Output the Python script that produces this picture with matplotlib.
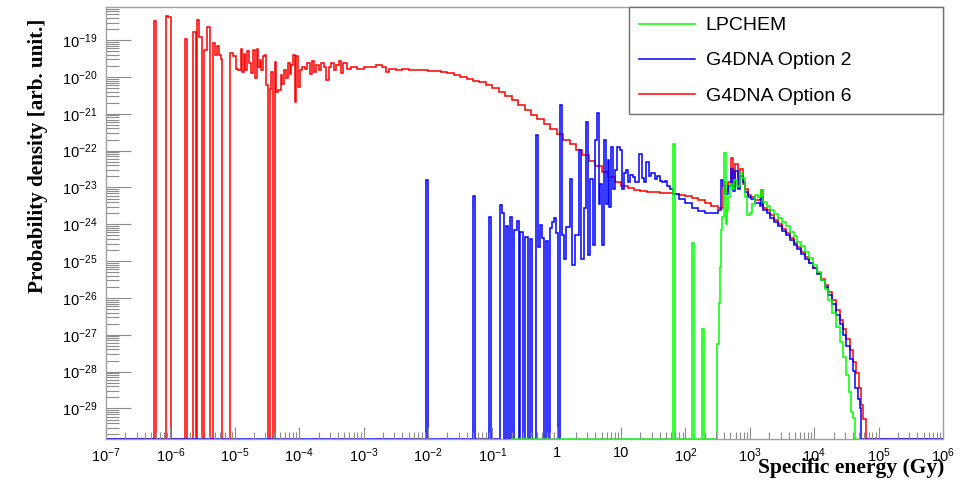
import numpy as np
import matplotlib
matplotlib.use('Agg')
import matplotlib.pyplot as plt
from matplotlib.ticker import LogLocator, FuncFormatter, NullFormatter
from matplotlib.lines import Line2D

# histogram bins
# edges are log10(specific energy / Gy), values log10(probability density)
# None = empty bin (ROOT draws it on the bottom of the frame)

red_edges = [
    -7.000, -6.256, -6.225, -6.074, -6.034, -5.992, -5.775, -5.736, -5.647, -5.600,
    -5.590, -5.555, -5.516, -5.473, -5.426, -5.380, -5.336, -5.305, -5.274, -5.243,
    -5.215, -5.191, -5.078, -5.026, -4.974, -4.949, -4.907, -4.886, -4.855, -4.834,
    -4.804, -4.783, -4.752, -4.716, -4.690, -4.659, -4.638, -4.612, -4.587, -4.556,
    -4.535, -4.509, -4.483, -4.457, -4.431, -4.406, -4.380, -4.354, -4.328, -4.287,
    -4.266, -4.235, -4.199, -4.173, -4.147, -4.121, -4.096, -4.070, -4.044, -4.018,
    -3.992, -3.956, -3.915, -3.873, -3.837, -3.801, -3.770, -3.734, -3.698, -3.656,
    -3.615, -3.579, -3.543, -3.501, -3.460, -3.424, -3.388, -3.357, -3.320, -3.250,
    -3.190, -3.100, -3.000, -2.900, -2.800, -2.720, -2.650, -2.600, -2.500, -2.400,
    -2.300, -2.200, -2.100, -2.000, -1.900, -1.800, -1.700, -1.600, -1.500, -1.400,
    -1.300, -1.200, -1.100, -1.000, -0.900, -0.800, -0.700, -0.600, -0.500, -0.400,
    -0.300, -0.200, -0.100, 0.000, 0.100, 0.200, 0.300, 0.400, 0.500, 0.600,
    0.700, 0.800, 0.900, 1.000, 1.100, 1.200, 1.300, 1.400, 1.500, 1.600,
    1.700, 1.800, 1.900, 2.000, 2.100, 2.200, 2.300, 2.400, 2.500, 2.550,
    2.580, 2.620, 2.660, 2.700, 2.740, 2.770, 2.810, 2.850, 2.890, 2.930,
    2.970, 3.020, 3.080, 3.150, 3.180, 3.210, 3.260, 3.320, 3.380, 3.440,
    3.500, 3.560, 3.620, 3.680, 3.740, 3.800, 3.860, 3.920, 3.980, 4.040,
    4.100, 4.160, 4.220, 4.280, 4.340, 4.400, 4.450, 4.500, 4.550, 4.600,
    4.650, 4.690, 4.720, 4.750, 4.800, 6.000,
]
red_logp = [
    None, -18.48, None, -18.35, -18.38, None, -18.97, None, -18.79, None,
    -18.46, -18.91, None, -19.27, -18.64, None, -19.07, -19.41, -19.16, -19.41,
    -19.52, None, -19.36, -19.43, -19.77, -19.82, -19.23, -19.86, -19.38, -19.80,
    -19.29, -19.63, -19.89, -19.27, -20.04, -19.23, -19.72, -19.53, -19.82, -19.43,
    -19.41, -20.22, None, -20.34, -19.86, None, -19.59, -20.40, -20.36, -19.95,
    -20.18, -19.80, -20.04, -19.63, -19.91, -19.68, -19.41, -20.68, -19.43, -20.27,
    -19.82, -19.72, -19.77, -19.63, -19.91, -19.56, -19.86, -19.68, -19.82, -19.62,
    -19.72, -20.07, -19.72, -19.63, -19.82, -19.68, -19.56, -19.89, -19.63, -19.77,
    -19.74, -19.77, -19.72, -19.74, -19.68, -19.72, -19.86, -19.77, -19.80, -19.79,
    -19.81, -19.82, -19.82, -19.84, -19.85, -19.87, -19.90, -19.94, -19.99, -20.05,
    -20.10, -20.15, -20.22, -20.30, -20.42, -20.52, -20.63, -20.77, -20.90, -21.03,
    -21.15, -21.28, -21.40, -21.55, -21.70, -21.83, -21.98, -22.12, -22.27, -22.42,
    -22.57, -22.71, -22.85, -22.95, -23.02, -23.07, -23.10, -23.11, -23.12, -23.14,
    -23.16, -23.18, -23.21, -23.24, -23.28, -23.34, -23.42, -23.50, -23.57, -23.55,
    -22.85, -23.10, -22.85, -22.21, -22.95, -22.35, -22.95, -22.50, -22.90, -23.05,
    -23.20, -23.25, -23.35, -23.30, -23.08, -23.55, -23.62, -23.75, -23.87, -24.00,
    -24.12, -24.25, -24.37, -24.50, -24.62, -24.76, -24.90, -25.04, -25.18, -25.32,
    -25.48, -25.64, -25.84, -26.06, -26.34, -26.60, -26.85, -27.12, -27.42, -27.75,
    -28.05, -28.45, -28.90, -29.30, None,
]

blue_edges = [
    -7.000, -2.030, -2.000, -1.300, -1.270, -1.045, -1.015, -0.881, -0.850, -0.814,
    -0.788, -0.752, -0.726, -0.695, -0.659, -0.623, -0.592, -0.566, -0.530, -0.494,
    -0.452, -0.416, -0.385, -0.323, -0.292, -0.261, -0.230, -0.199, -0.168, -0.137,
    -0.106, -0.075, -0.044, -0.013, 0.018, 0.049, 0.080, 0.110, 0.150, 0.200,
    0.240, 0.290, 0.340, 0.380, 0.420, 0.460, 0.490, 0.520, 0.560, 0.600,
    0.630, 0.660, 0.680, 0.700, 0.730, 0.760, 0.790, 0.810, 0.840, 0.870,
    0.900, 0.940, 0.980, 1.010, 1.040, 1.080, 1.110, 1.140, 1.180, 1.220,
    1.280, 1.320, 1.350, 1.390, 1.430, 1.470, 1.520, 1.560, 1.600, 1.640,
    1.680, 1.720, 1.760, 1.800, 1.900, 2.000, 2.100, 2.200, 2.300, 2.400,
    2.500, 2.550, 2.580, 2.620, 2.660, 2.700, 2.740, 2.770, 2.810, 2.850,
    2.890, 2.930, 2.970, 3.020, 3.080, 3.150, 3.180, 3.210, 3.260, 3.320,
    3.380, 3.440, 3.500, 3.560, 3.620, 3.680, 3.740, 3.800, 3.860, 3.920,
    3.980, 4.040, 4.100, 4.160, 4.220, 4.280, 4.340, 4.400, 4.450, 4.500,
    4.550, 4.600, 4.640, 4.680, 4.710, 4.730, 6.000,
]
blue_logp = [
    None, -22.80, None, -23.24, None, -23.80, None, -23.47, -23.68, None,
    -24.05, None, -23.80, None, -24.16, -23.92, None, -24.21, None, -24.35,
    None, -24.41, None, -21.58, -24.62, -24.01, -24.37, None, -24.45, None,
    -24.10, -23.95, -23.83, -24.25, None, -20.75, -24.30, -24.93, -24.07, -22.76,
    -25.11, -24.30, -21.99, -24.93, -23.57, -21.22, -24.84, -22.76, -24.57, -21.72,
    -20.99, -23.44, -22.90, -24.57, -21.72, -23.44, -22.26, -23.53, -21.90, -23.03,
    -22.53, -21.90, -21.99, -23.03, -22.62, -22.53, -22.85, -22.67, -22.71, -22.85,
    -22.10, -22.75, -22.85, -22.31, -22.70, -22.62, -22.76, -22.70, -22.82, -22.85,
    -22.82, -22.95, -23.05, -23.18, -23.30, -23.42, -23.55, -23.63, -23.68, -23.68,
    -23.62, -22.80, -22.95, -23.17, -22.95, -22.50, -23.10, -22.55, -23.05, -22.70,
    -22.85, -23.12, -23.25, -23.30, -23.42, -23.50, -23.26, -23.62, -23.70, -23.82,
    -23.93, -24.06, -24.18, -24.30, -24.42, -24.55, -24.67, -24.80, -24.93, -25.06,
    -25.20, -25.35, -25.51, -25.70, -25.92, -26.17, -26.45, -26.72, -27.00, -27.30,
    -27.65, -27.98, -28.45, -28.75, -29.00, None,
]

green_edges = [
    -0.700, 1.800, 1.830, 2.100, 2.130, 2.260, 2.290, 2.490, 2.520, 2.535,
    2.550, 2.575, 2.600, 2.625, 2.640, 2.660, 2.690, 2.720, 2.760, 2.800,
    2.840, 2.880, 2.920, 2.960, 3.000, 3.040, 3.080, 3.120, 3.170, 3.210,
    3.260, 3.320, 3.380, 3.440, 3.500, 3.560, 3.620, 3.680, 3.740, 3.800,
    3.860, 3.920, 3.980, 4.040, 4.100, 4.160, 4.220, 4.280, 4.340, 4.400,
    4.450, 4.500, 4.540, 4.570, 4.600, 4.640, 4.670,
]
green_logp = [
    None, -21.81, None, -24.51, None, -26.83, None, -27.24, -26.15, -25.16,
    -24.16, -23.80, -22.06, -23.98, -23.62, -23.26, -22.90, -23.05, -22.80, -22.95,
    -22.62, -22.75, -23.26, -23.76, -23.70, -23.45, -23.21, -23.25, -23.08, -23.39,
    -23.50, -23.62, -23.72, -23.82, -23.94, -24.06, -24.20, -24.33, -24.47, -24.60,
    -24.75, -24.92, -25.10, -25.30, -25.52, -25.77, -26.05, -26.40, -26.80, -27.20,
    -27.60, -28.10, -28.55, -29.10, -29.25, None,
]

labels = ['LPCHEM', 'G4DNA Option 2', 'G4DNA Option 6']
colors = ['#00ff00', '#0000ff', '#ff0000']

Y_LOW = 10 ** -29.83
Y_HIGH = 10 ** -18.1
Y_FLOOR = 10 ** -29.82   # empty bins sit on the frame bottom


def to_hist(edges, logp):
    vals = np.array([Y_FLOOR if v is None else 10.0 ** v for v in logp])
    return vals, 10.0 ** np.asarray(edges)


def tick_label(v, pos):
    e = int(round(np.log10(v)))
    if e == 0:
        return '1'
    if e == 1:
        return '10'
    return r'$10^{%d}$' % e


plt.rcParams['font.family'] = 'Liberation Sans'
plt.rcParams['mathtext.fontset'] = 'custom'
plt.rcParams['mathtext.rm'] = 'Liberation Sans'
plt.rcParams['mathtext.it'] = 'Liberation Sans:italic'
plt.rcParams['mathtext.bf'] = 'Liberation Sans:bold'

W, H = 968, 482
fig = plt.figure(figsize=(W / 100, H / 100), dpi=100)
ax = fig.add_axes([106 / W, 1 - 439 / H, 837 / W, 432 / H])

# draw order as in the ROOT canvas: option 6, option 2, LPCHEM on top
for edges, logp, c in [(red_edges, red_logp, colors[2]),
                       (blue_edges, blue_logp, colors[1]),
                       (green_edges, green_logp, colors[0])]:
    vals, e = to_hist(edges, logp)
    ax.stairs(vals, e, color=c, lw=1.1)

ax.set_xscale('log')
ax.set_yscale('log')
ax.set_xlim(1e-7, 1e6)
ax.set_ylim(Y_LOW, Y_HIGH)

ax.xaxis.set_major_locator(LogLocator(base=10, numticks=30))
ax.xaxis.set_minor_locator(LogLocator(base=10, subs=np.arange(2, 10), numticks=200))
ax.xaxis.set_major_formatter(FuncFormatter(tick_label))
ax.xaxis.set_minor_formatter(NullFormatter())
ax.yaxis.set_major_locator(LogLocator(base=10, numticks=30))
ax.yaxis.set_minor_locator(LogLocator(base=10, subs=np.arange(2, 10), numticks=200))
ax.yaxis.set_major_formatter(FuncFormatter(tick_label))
ax.yaxis.set_minor_formatter(NullFormatter())

tick_grey = '#8c8c8c'
ax.tick_params(axis='both', which='both', direction='in', color=tick_grey,
               width=0.8, top=False, right=False, labelsize=10.5)
ax.tick_params(axis='y', which='major', length=18, pad=6)
ax.tick_params(axis='y', which='minor', length=9)
ax.tick_params(axis='x', which='major', length=9, pad=5)
ax.tick_params(axis='x', which='minor', length=5)

for sp in ax.spines.values():
    sp.set_color('#a0a0a0')
    sp.set_linewidth(1.0)

fig.text(38 / W, 1 - 156 / H, 'Probability density [arb. unit.]', rotation=90,
         ha='center', va='center', family='Liberation Serif', weight='bold',
         fontsize=15.2)
fig.text(944 / W, 1 - 468 / H, 'Specific energy (Gy)', ha='right', va='center',
         family='Liberation Serif', weight='bold', fontsize=15.5)

handles = [Line2D([], [], color=c, lw=1.1) for c in colors]
leg = ax.legend(handles, labels, loc='upper left',
                bbox_to_anchor=(629 / W, 1 - 115 / H, 314 / W, 108 / H),
                bbox_transform=fig.transFigure, mode='expand', borderaxespad=0,
                fontsize=14, handlelength=2.9, handletextpad=0.55,
                borderpad=0.5, labelspacing=0.9, fancybox=False,
                framealpha=1, edgecolor='#707070')
leg.get_frame().set_linewidth(1.0)

fig.savefig('out.png', dpi=100)
